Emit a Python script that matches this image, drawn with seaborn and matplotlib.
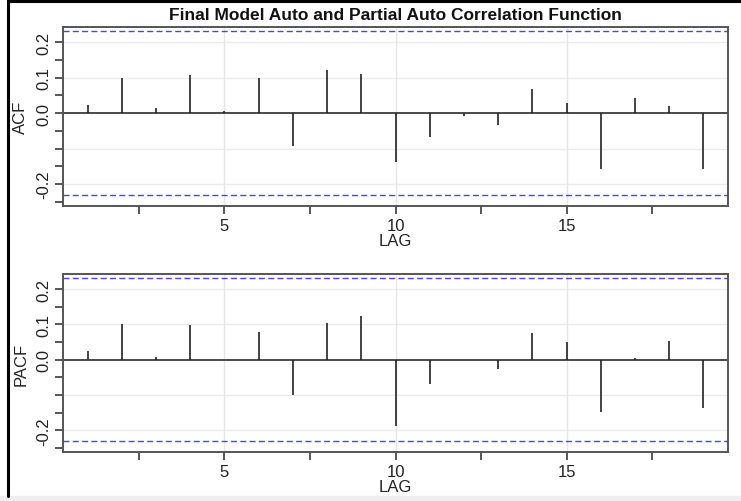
import numpy as np
import pandas as pd
import matplotlib
matplotlib.use("Agg")
import matplotlib.pyplot as plt
import seaborn as sns
from matplotlib.lines import Line2D
from matplotlib.patches import Rectangle

lags = list(range(1, 20))
acf_vals = [0.024, 0.100, 0.014, 0.108, 0.006, 0.098, -0.092, 0.122, 0.110,
            -0.137, -0.067, -0.007, -0.033, 0.068, 0.028, -0.158, 0.042, 0.020, -0.159]
pacf_vals = [0.025, 0.100, 0.008, 0.098, 0.0, 0.080, -0.101, 0.104, 0.124,
             -0.188, -0.068, 0.0, -0.027, 0.077, 0.049, -0.149, 0.004, 0.053, -0.137]
ci_bound = 0.231
title = "Final Model Auto and Partial Auto Correlation Function"
y_tick_vals = [-0.25, -0.2, -0.15, -0.1, -0.05, 0.0, 0.05, 0.1, 0.15, 0.2]
y_tick_labels = ["", "-0.2", "", "", "", "0.0", "", "0.1", "", "0.2"]
x_tick_vals = [2.5, 5, 7.5, 10, 12.5, 15, 17.5]
x_tick_labels = ["", "5", "", "10", "", "15", ""]

sns.set_theme(style="white")
plt.rcParams['font.family'] = ['Liberation Sans', 'DejaVu Sans']

fig = plt.figure(figsize=(7.41, 5.02), dpi=100)
W, H = 741, 502

def ax_rect(l, t, r, b):
    return [l / W, (H - b) / H, (r - l) / W, (b - t) / H]

ax1 = fig.add_axes(ax_rect(63, 28, 728, 207))
ax2 = fig.add_axes(ax_rect(63, 275, 728, 453.3))

fs = 12
dark = "#3a3a3a"
for ax, vals, name in [(ax1, acf_vals, "ACF"), (ax2, pacf_vals, "PACF")]:
    df = pd.DataFrame({"LAG": lags, name: vals})
    ax.set_xlim(0.28, 19.72)
    ax.set_ylim(-0.262, 0.243)
    for g in [0.2, 0.1, -0.1, -0.2]:
        ax.axhline(g, color="#ebebeb", lw=1.0, zorder=0)
    for g in [5, 10, 15]:
        ax.axvline(g, color="#e6e6e6", lw=1.0, zorder=0)
    ax.vlines(df["LAG"], 0, df[name], color="#222222", lw=1.2, zorder=3)
    sns.lineplot(x=[0.28, 19.72], y=[0, 0], ax=ax, color=dark, lw=1.3, zorder=2)
    for s in [ci_bound, -ci_bound]:
        ax.axhline(s, color="#4444ff", lw=1.0, ls=(0, (4.3, 2.4)), zorder=2)
    ax.set_yticks(y_tick_vals)
    ax.set_yticklabels(y_tick_labels, rotation=90, va="center", fontsize=fs, color="#222222")
    ax.set_xticks(x_tick_vals)
    ax.set_xticklabels(x_tick_labels, fontsize=fs, color="#222222")
    ax.tick_params(axis="both", direction="out", length=5.5, width=1.2, color=dark,
                   bottom=True, left=True, pad=3)
    ax.set_ylabel(name, fontsize=fs, color="#222222")
    ax.yaxis.set_label_coords(-0.052, 0.5)
    ax.set_xlabel("LAG", fontsize=fs, color="#222222", labelpad=0)
    for sp in ax.spines.values():
        sp.set_color("#555555")
        sp.set_linewidth(1.4)
    ax.grid(False)

fig.text(395 / W, 1 - 16 / H, title, ha="center", va="center",
         fontsize=12.5, fontweight="bold", color="#111111")

# screenshot frame
fig.add_artist(Line2D([8 / W, 8 / W], [5 / H, 1 - 1 / H], color="black", lw=2.2,
                      transform=fig.transFigure))
fig.add_artist(Line2D([8 / W, 1.0], [1 - 2 / H, 1 - 2 / H], color="black", lw=2.2,
                      transform=fig.transFigure))
fig.add_artist(Rectangle((0, 0), 1, 5 / H, transform=fig.transFigure,
                         color="#eceef1", zorder=0))

fig.savefig("out.png", dpi=100)
